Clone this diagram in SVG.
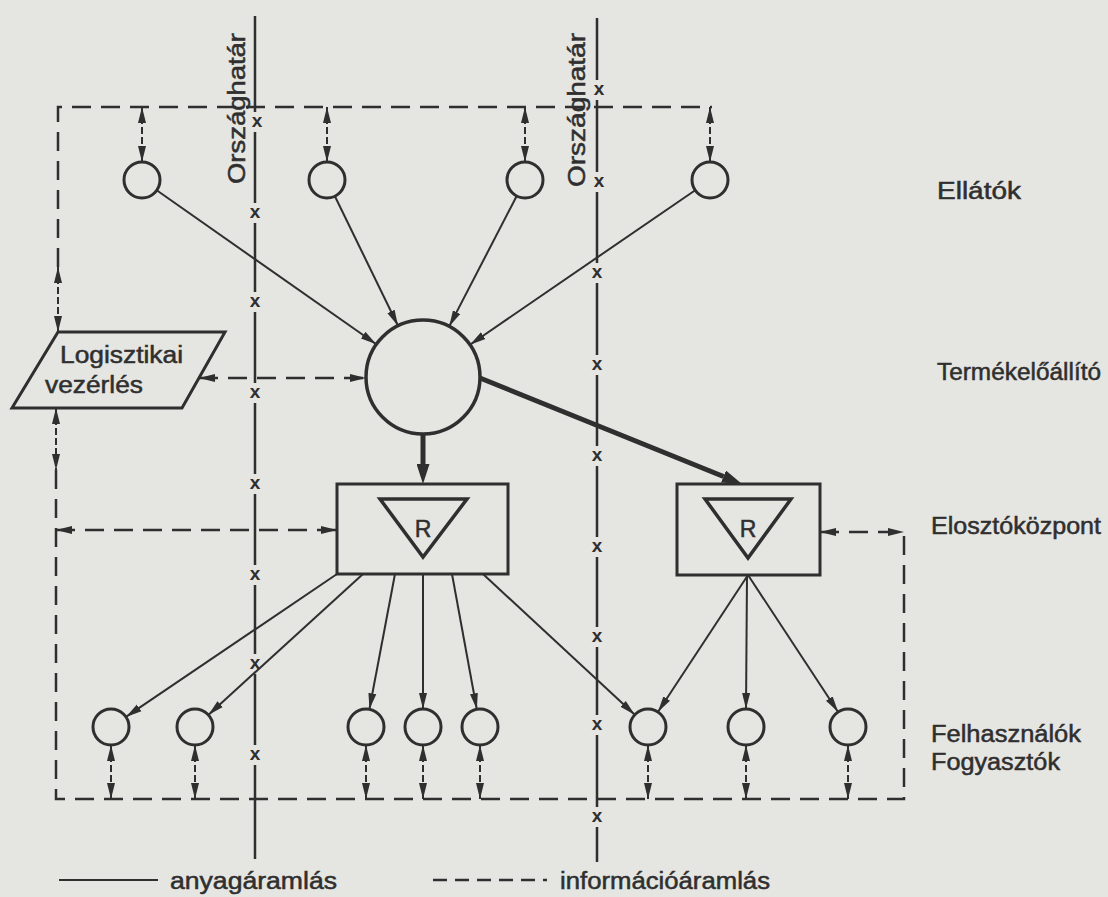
<svg xmlns="http://www.w3.org/2000/svg" width="1108" height="897" viewBox="0 0 1108 897">
<defs>
<style>
.bg{fill:#e5e5e2}
.mat{stroke:#2f2f2f;stroke-width:2;fill:none}
.thick{stroke:#2f2f2f;stroke-width:5;fill:none}
.info{stroke:#2f2f2f;stroke-width:2.5;fill:none;stroke-dasharray:19 10}
.short{stroke:#2f2f2f;stroke-width:2;fill:none;stroke-dasharray:7 3}
.node{stroke:#2f2f2f;stroke-width:3;fill:none}
.border{stroke:#2f2f2f;stroke-width:2.5;fill:none}
.lbl{font-family:"Liberation Sans",Arial,sans-serif;font-size:23px;fill:#2f2f2f;stroke:#2f2f2f;stroke-width:0.5}
.xm{font-family:"Liberation Sans",Arial,sans-serif;font-size:19px;font-weight:bold;fill:#2f2f2f;text-anchor:middle}
</style>
<marker id="ah" viewBox="0 0 16 9" refX="16" refY="4.5" markerWidth="16" markerHeight="9" markerUnits="userSpaceOnUse" orient="auto-start-reverse">
<path d="M0,0.5 L16,4.5 L0,8.5 z" fill="#2f2f2f"/>
</marker>
<marker id="ahT" viewBox="0 0 20 13" refX="0" refY="6.5" markerWidth="20" markerHeight="13" markerUnits="userSpaceOnUse" orient="auto">
<path d="M0,0 L20,6.5 L0,13 z" fill="#2f2f2f"/>
</marker>
</defs>
<rect class="bg" x="0" y="0" width="1108" height="897"/>

<g id="borders">
<g id="orszaghatar-1">
<path class="border" d="M255,16V112 M255,132V203 M255,223V292 M255,312V383 M255,403V474 M255,494V565 M255,585V654 M255,674V745 M255,765V859"/>
<text class="xm" x="257" y="127">x</text>
<text class="xm" x="255" y="218">x</text>
<text class="xm" x="255" y="307">x</text>
<text class="xm" x="255" y="398">x</text>
<text class="xm" x="255" y="489">x</text>
<text class="xm" x="255" y="580">x</text>
<text class="xm" x="255" y="669">x</text>
<text class="xm" x="255" y="760">x</text>
<text class="lbl" transform="translate(245,184) rotate(-90)" textLength="151" lengthAdjust="spacingAndGlyphs">Országhatár</text>
</g>
<g id="orszaghatar-2">
<path class="border" d="M597,18V80 M597,100V172 M597,192V263 M597,283V355 M597,375V446 M597,466V537 M597,557V627 M597,647V715 M597,735V807 M597,827V862"/>
<text class="xm" x="599" y="95">x</text>
<text class="xm" x="599" y="187">x</text>
<text class="xm" x="597" y="278">x</text>
<text class="xm" x="597" y="370">x</text>
<text class="xm" x="597" y="461">x</text>
<text class="xm" x="597" y="552">x</text>
<text class="xm" x="597" y="642">x</text>
<text class="xm" x="597" y="730">x</text>
<text class="xm" x="597" y="822">x</text>
<text class="lbl" transform="translate(585,187) rotate(-90)" textLength="154" lengthAdjust="spacingAndGlyphs">Országhatár</text>
</g>
</g>

<g id="connectors">
<path class="info" d="M58,267V107H712"/>
<path class="info" d="M56,470V799H904V532"/>
<path class="short" d="M58,267V332" marker-start="url(#ah)" marker-end="url(#ah)"/>
<path class="short" d="M56,408V470" marker-start="url(#ah)" marker-end="url(#ah)"/>
<path class="info" d="M199,378H366" marker-start="url(#ah)" marker-end="url(#ah)"/>
<path class="info" d="M56,530H337" marker-start="url(#ah)" marker-end="url(#ah)"/>
<path class="info" d="M820,532H904" marker-start="url(#ah)" marker-end="url(#ah)"/>
<path class="short" d="M142,107V162" marker-start="url(#ah)" marker-end="url(#ah)"/>
<path class="short" d="M327,107V162" marker-start="url(#ah)" marker-end="url(#ah)"/>
<path class="short" d="M525,107V162" marker-start="url(#ah)" marker-end="url(#ah)"/>
<path class="short" d="M710,107V162" marker-start="url(#ah)" marker-end="url(#ah)"/>
<path class="short" d="M111,745V799" marker-start="url(#ah)" marker-end="url(#ah)"/>
<path class="short" d="M195,745V799" marker-start="url(#ah)" marker-end="url(#ah)"/>
<path class="short" d="M366,745V799" marker-start="url(#ah)" marker-end="url(#ah)"/>
<path class="short" d="M423,745V799" marker-start="url(#ah)" marker-end="url(#ah)"/>
<path class="short" d="M480,745V799" marker-start="url(#ah)" marker-end="url(#ah)"/>
<path class="short" d="M648,745V799" marker-start="url(#ah)" marker-end="url(#ah)"/>
<path class="short" d="M746,745V799" marker-start="url(#ah)" marker-end="url(#ah)"/>
<path class="short" d="M848,745V799" marker-start="url(#ah)" marker-end="url(#ah)"/>
<path class="mat" d="M156.7,190.3L376.3,344.3" marker-end="url(#ah)"/>
<path class="mat" d="M334.9,196.2L398,325.8" marker-end="url(#ah)"/>
<path class="mat" d="M516.7,196L449.2,326.4" marker-end="url(#ah)"/>
<path class="mat" d="M695.2,190.2L470,344.7" marker-end="url(#ah)"/>
<path class="thick" d="M423,434V464" marker-end="url(#ahT)"/>
<path class="thick" d="M480,378L723.5,476.5" marker-end="url(#ahT)"/>
<path class="mat" d="M337,574L125.9,716.9" marker-end="url(#ah)"/>
<path class="mat" d="M363,574L208.3,714.9" marker-end="url(#ah)"/>
<path class="mat" d="M395,574L369.4,709.3" marker-end="url(#ah)"/>
<path class="mat" d="M423,574V709" marker-end="url(#ah)"/>
<path class="mat" d="M452,574L476.8,709.3" marker-end="url(#ah)"/>
<path class="mat" d="M483,574L634.8,714.8" marker-end="url(#ah)"/>
<path class="mat" d="M748,575L657.9,712" marker-end="url(#ah)"/>
<path class="mat" d="M747,575L746,709" marker-end="url(#ah)"/>
<path class="mat" d="M748,575L838.1,712" marker-end="url(#ah)"/>
</g>

<g id="supplier-1"><circle class="node" cx="142" cy="180" r="18"/></g>
<g id="supplier-2"><circle class="node" cx="327" cy="180" r="18"/></g>
<g id="supplier-3"><circle class="node" cx="525" cy="180" r="18"/></g>
<g id="supplier-4"><circle class="node" cx="710" cy="180" r="18"/></g>
<g id="producer"><circle class="node" cx="423" cy="377" r="57" style="stroke-width:3.5"/></g>
<g id="logistics">
<polygon class="node" points="58,332 225,332 182,408 12,408"/>
<text class="lbl" x="60" y="363" textLength="123" lengthAdjust="spacingAndGlyphs">Logisztikai</text>
<text class="lbl" x="45" y="393" textLength="98" lengthAdjust="spacingAndGlyphs">vezérlés</text>
</g>
<g id="dc-1">
<rect class="node" x="337" y="484" width="171" height="90"/>
<polygon class="node" points="380,499 467,499 423,557" style="stroke-width:3.5"/>
<text class="lbl" x="423" y="537" text-anchor="middle">R</text>
</g>
<g id="dc-2">
<rect class="node" x="677" y="484" width="143" height="91"/>
<polygon class="node" points="705,499 791,499 748,558" style="stroke-width:3.5"/>
<text class="lbl" x="748" y="537" text-anchor="middle">R</text>
</g>
<g id="user-1"><circle class="node" cx="111" cy="727" r="18"/></g>
<g id="user-2"><circle class="node" cx="195" cy="727" r="18"/></g>
<g id="user-3"><circle class="node" cx="366" cy="727" r="18"/></g>
<g id="user-4"><circle class="node" cx="423" cy="727" r="18"/></g>
<g id="user-5"><circle class="node" cx="480" cy="727" r="18"/></g>
<g id="user-6"><circle class="node" cx="648" cy="727" r="18"/></g>
<g id="user-7"><circle class="node" cx="746" cy="727" r="18"/></g>
<g id="user-8"><circle class="node" cx="848" cy="727" r="18"/></g>

<g id="labels">
<text class="lbl" x="937" y="199" textLength="84" lengthAdjust="spacingAndGlyphs">Ellátók</text>
<text class="lbl" x="937" y="380" textLength="164" lengthAdjust="spacingAndGlyphs">Termékelőállító</text>
<text class="lbl" x="931" y="534" textLength="170" lengthAdjust="spacingAndGlyphs">Elosztóközpont</text>
<text class="lbl" x="931" y="742" textLength="150" lengthAdjust="spacingAndGlyphs">Felhasználók</text>
<text class="lbl" x="931" y="770" textLength="129" lengthAdjust="spacingAndGlyphs">Fogyasztók</text>
</g>

<g id="legend">
<path class="mat" d="M59,880H158"/>
<text class="lbl" x="170" y="889" textLength="167" lengthAdjust="spacingAndGlyphs">anyagáramlás</text>
<path class="border" d="M433,880H547" style="stroke-dasharray:14 8"/>
<text class="lbl" x="560" y="889" textLength="210" lengthAdjust="spacingAndGlyphs">információáramlás</text>
</g>
</svg>
